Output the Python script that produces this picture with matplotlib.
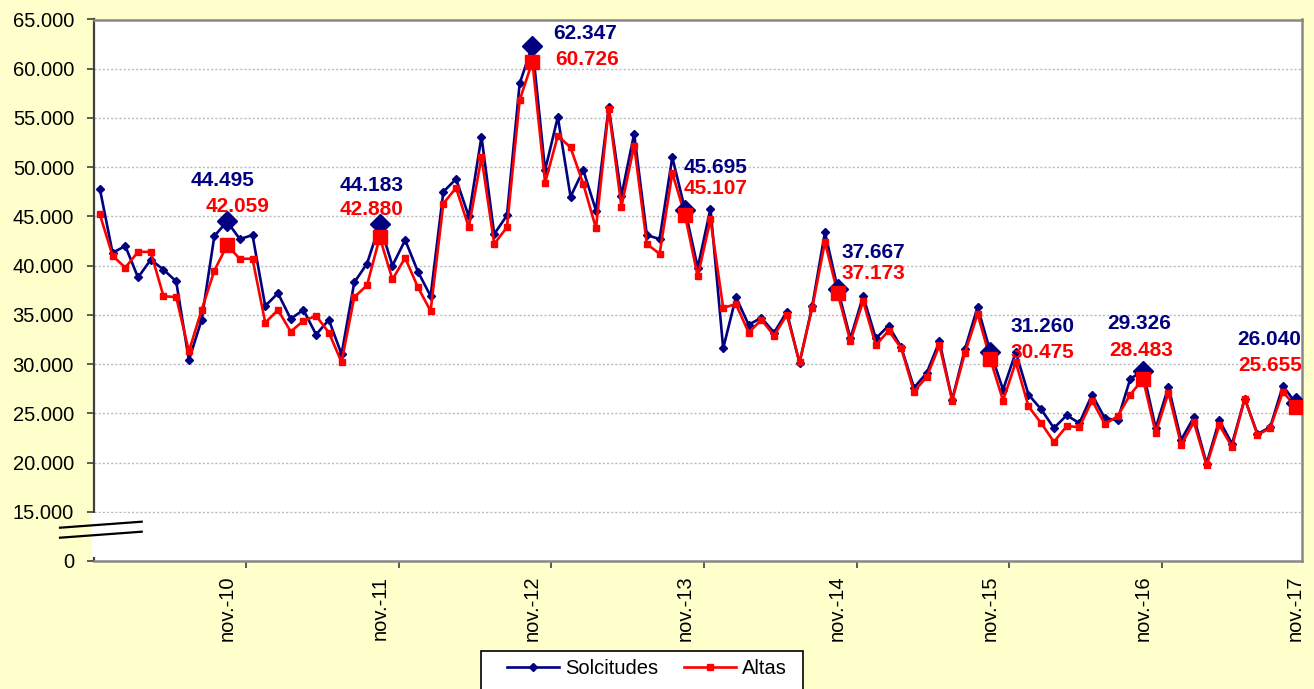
import matplotlib
matplotlib.use('Agg')
import matplotlib.pyplot as plt
from matplotlib.patches import Rectangle
from matplotlib.lines import Line2D

plt.rcParams['font.family'] = ['Liberation Sans', 'DejaVu Sans']

# monthly values jan-10 .. nov-17 (thousands)
solicitudes = [47.8, 41.3, 42.0, 38.8, 40.6, 39.6, 38.4, 30.4, 34.5, 43.0, 44.495, 42.7,
               43.1, 35.9, 37.2, 34.6, 35.5, 33.0, 34.5, 31.0, 38.3, 40.2, 44.183, 40.0,
               42.6, 39.4, 36.9, 47.5, 48.8, 45.0, 53.1, 43.2, 45.1, 58.5, 62.347, 49.7,
               55.1, 47.0, 49.7, 45.6, 56.1, 47.1, 53.4, 43.1, 42.7, 51.0, 45.695, 39.8,
               45.8, 31.6, 36.8, 34.0, 34.7, 33.2, 35.3, 30.1, 35.9, 43.4, 37.667, 32.6,
               36.9, 32.6, 33.9, 31.7, 27.6, 29.1, 32.3, 26.4, 31.5, 35.8, 31.260, 27.4,
               31.2, 26.9, 25.4, 23.5, 24.8, 24.0, 26.9, 24.5, 24.3, 28.5, 29.326, 23.5,
               27.7, 22.3, 24.6, 19.9, 24.3, 21.9, 26.5, 22.9, 23.6, 27.8, 26.040]
altas = [45.2, 41.0, 39.8, 41.4, 41.4, 36.9, 36.8, 31.3, 35.5, 39.5, 42.059, 40.7,
         40.7, 34.2, 35.5, 33.3, 34.4, 34.9, 33.2, 30.2, 36.8, 38.0, 42.880, 38.6,
         40.8, 37.8, 35.4, 46.3, 47.9, 43.9, 51.0, 42.2, 43.9, 56.8, 60.726, 48.4,
         53.2, 52.0, 48.3, 43.8, 55.9, 46.0, 52.2, 42.2, 41.2, 49.4, 45.107, 38.9,
         44.7, 35.7, 36.1, 33.2, 34.5, 32.9, 35.0, 30.2, 35.7, 42.4, 37.173, 32.3,
         36.4, 31.9, 33.4, 31.6, 27.2, 28.7, 31.9, 26.3, 31.1, 35.1, 30.475, 26.3,
         30.2, 25.7, 24.0, 22.1, 23.7, 23.6, 26.3, 23.9, 24.7, 26.9, 28.483, 23.0,
         27.1, 21.8, 24.1, 19.7, 23.8, 21.6, 26.5, 22.8, 23.5, 27.2, 25.655]
years = ['10', '11', '12', '13', '14', '15', '16', '17']
xlabels = ['nov.-' + y for y in years]

sol = [v * 1000 for v in solicitudes]
alt = [v * 1000 for v in altas]
x = list(range(len(sol)))
nov = [10 + 12 * k for k in range(len(years))]

# label offsets (pixels) for the november values
sol_off = [(-5, 41), (-8, 39), (53, 12), (31, 42), (36, 36), (52, 25), (-4, 47), (-26, 64)]
alt_off = [(10, 39), (-8, 28), (55, 2), (31, 27), (36, 20), (52, 7), (-2, 29), (-25, 41)]

navy = '#000080'
red = '#FF0000'

fig = plt.figure(figsize=(13.14, 6.89), dpi=100, facecolor='#FFFFCC')
ax = fig.add_axes([93.5 / 1314, 1 - 561 / 689, (1302 - 93.5) / 1314, (561 - 19.5) / 689])
ax.set_facecolor('white')

l1, = ax.plot(x, sol, color=navy, lw=1.9, marker='D', ms=4.5, zorder=3, label='Solcitudes')
l2, = ax.plot(x, alt, color=red, lw=1.9, marker='s', ms=4.2, zorder=4, label='Altas')
ax.plot(nov, [sol[i] for i in nov], ls='none', marker='D', ms=10, color=navy, zorder=5)
ax.plot(nov, [alt[i] for i in nov], ls='none', marker='s', ms=10, color=red, zorder=6)

for k, i in enumerate(nov):
    ax.annotate(f"{sol[i]:,.0f}".replace(',', '.'), (i, sol[i]), xytext=sol_off[k],
                textcoords='offset pixels', ha='center', va='center',
                fontsize=15, fontweight='bold', color=navy, zorder=7)
    ax.annotate(f"{alt[i]:,.0f}".replace(',', '.'), (i, alt[i]), xytext=alt_off[k],
                textcoords='offset pixels', ha='center', va='center',
                fontsize=15, fontweight='bold', color=red, zorder=7)

ax.set_xlim(-0.5, len(sol) - 0.5)
ax.set_ylim(10000, 65000)

yt = list(range(10000, 65001, 5000))
ax.set_yticks(yt)
ax.set_yticklabels(['0'] + [f"{v:,}".replace(',', '.') for v in yt[1:]])
for v in yt[1:]:
    ax.axhline(v, color='#BBBBBB', lw=1, ls=(0, (1.5, 1.5)), zorder=1)

ax.set_xticks([11.5 + 12 * k for k in range(7)])
ax.set_xticklabels([])
ax.set_xticks(nov, minor=True)
ax.set_xticklabels(xlabels, minor=True, rotation=90)
ax.tick_params(axis='x', which='minor', length=0, pad=10.5, labelsize=14.5)
ax.tick_params(axis='x', which='major', length=5, width=1.2, color='#404040')
ax.tick_params(axis='y', length=5, width=1.2, color='#404040', pad=9, labelsize=14.5)

for s in ['top', 'right', 'bottom']:
    ax.spines[s].set_color('#888888')
    ax.spines[s].set_linewidth(1.8)
ax.spines['left'].set_color('#404040')
ax.spines['left'].set_linewidth(1.6)

# axis break
fig.add_artist(Rectangle((91.7 / 1314, 1 - 557 / 689), (128 - 91.7) / 1314, (557 - 512.5) / 689,
                         transform=fig.transFigure, facecolor='white', edgecolor='none', zorder=10))
for y0, y1 in [(527.7, 521.7), (537.7, 531.7)]:
    fig.add_artist(Line2D([60 / 1314, 141.7 / 1314], [1 - y0 / 689, 1 - y1 / 689],
                          transform=fig.transFigure, color='black', lw=1.6, zorder=11))

# legend box (runs off the bottom edge like the original)
fig.add_artist(Rectangle((481 / 1314, -0.05), (803 - 481) / 1314, 0.05 + 1 - 651 / 689,
                         transform=fig.transFigure, facecolor='white', edgecolor='black',
                         lw=1.2, zorder=12))
leg = fig.legend(handles=[l1, l2], loc='center', bbox_to_anchor=(647 / 1314, 1 - 669 / 689),
                 ncol=2, fontsize=14.5, frameon=False, handlelength=2.6,
                 handletextpad=0.3, columnspacing=1.25, borderpad=0)
leg.set_zorder(13)

fig.savefig('out.png', dpi=100, facecolor=fig.get_facecolor())
